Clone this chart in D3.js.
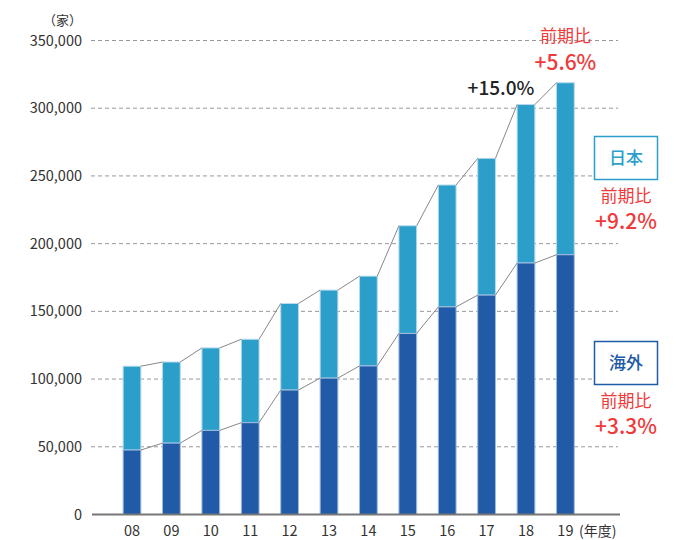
<!DOCTYPE html>
<html lang="ja">
<head>
<meta charset="UTF-8">
<title>店舗数推移</title>
<script src="https://cdn.jsdelivr.net/npm/d3@7"></script>
<style>
    * { margin: 0; padding: 0; }
    body { background: #fff; }
    svg text { font-family: "Noto Sans CJK JP", "Noto Sans", sans-serif; }
</style>
</head>
<body>
<div id="content"></div>
<script>
    // データ
    var years = ["08", "09", "10", "11", "12", "13", "14", "15", "16", "17", "18", "19"];
    var overseas = [47600, 52700, 62100, 67800, 91900, 100700, 109700, 133700, 153300, 162000, 185700, 191800];
    var japan = [61900, 59900, 60900, 61600, 63900, 65000, 66300, 79500, 90000, 101000, 117000, 127000];
    var yTicks = [0, 50000, 100000, 150000, 200000, 250000, 300000, 350000];
    var yUnit = "（家）";
    var xUnit = "(年度)";
    var seriesNames = ["日本", "海外"];
    var ratioLabel = "前期比";
    var ratios = ["+9.2%", "+3.3%"];
    var totalRatio = "+5.6%";
    var lastRatio = "+15.0%";

    var width = 693, height = 540;
    var colJapan = "#2b9fca", colOverseas = "#215aa6";

    var svg = d3.select("#content").append("svg")
        .attr("width", width).attr("height", height);

    var x = d3.scaleBand().domain(years)
        .range([112.3, 585.1])
        .paddingInner(0.55).paddingOuter(0.275);
    var y = d3.scaleLinear().domain([0, 350000]).range([514.5, 40.5]);

    // グリッド
    var yAxis = d3.axisLeft(y).tickValues(yTicks)
        .tickSize(0).tickPadding(8)
        .tickFormat(d3.format(","));
    var gy = svg.append("g").attr("transform", "translate(90,0)").call(yAxis);
    gy.select(".domain").remove();
    gy.selectAll("text").attr("font-size", 14.5).attr("fill", "#333");

    svg.selectAll("line.grid").data(yTicks.filter(function(d){ return d > 0; }))
        .enter().append("line").attr("class", "grid")
        .attr("x1", 91).attr("x2", 618)
        .attr("y1", function(d){ return y(d); })
        .attr("y2", function(d){ return y(d); })
        .attr("stroke", "#999").attr("stroke-width", 1)
        .attr("stroke-dasharray", "4,3");

    svg.append("text").text(yUnit)
        .attr("x", 82).attr("y", 25).attr("text-anchor", "end")
        .attr("font-size", 13).attr("fill", "#333");

    // 積み上げ
    var stack = years.map(function(d, i){
        return { year: d, o: overseas[i], t: overseas[i] + japan[i] };
    });

    svg.selectAll("rect.jp").data(stack).enter().append("rect")
        .attr("class", "jp")
        .attr("x", function(d){ return x(d.year); })
        .attr("y", function(d){ return y(d.t); })
        .attr("width", x.bandwidth())
        .attr("height", function(d){ return y(d.o) - y(d.t); })
        .attr("fill", colJapan).attr("stroke", "#b9d9ec").attr("stroke-width", 1);

    svg.selectAll("rect.os").data(stack).enter().append("rect")
        .attr("class", "os")
        .attr("x", function(d){ return x(d.year); })
        .attr("y", function(d){ return y(d.o); })
        .attr("width", x.bandwidth())
        .attr("height", function(d){ return y(0) - y(d.o); })
        .attr("fill", colOverseas).attr("stroke", "#9fbbdc").attr("stroke-width", 1);

    // 連結線
    function connectors(key){
        var segs = [];
        for (var i = 0; i < stack.length - 1; i++) {
            segs.push([stack[i], stack[i + 1]]);
        }
        svg.selectAll("line.c" + key).data(segs).enter().append("line")
            .attr("class", "c" + key)
            .attr("x1", function(d){ return x(d[0].year) + x.bandwidth(); })
            .attr("y1", function(d){ return y(d[0][key]); })
            .attr("x2", function(d){ return x(d[1].year); })
            .attr("y2", function(d){ return y(d[1][key]); })
            .attr("stroke", "#888").attr("stroke-width", 1);
    }
    connectors("t");
    connectors("o");

    // x軸
    svg.append("line")
        .attr("x1", 92).attr("x2", 620)
        .attr("y1", y(0)).attr("y2", y(0))
        .attr("stroke", "#777").attr("stroke-width", 2);

    svg.selectAll("text.xl").data(years).enter().append("text")
        .attr("class", "xl")
        .attr("x", function(d){ return x(d) + x.bandwidth() / 2; })
        .attr("y", 536).attr("text-anchor", "middle")
        .attr("font-size", 14.5).attr("fill", "#333")
        .text(function(d){ return d; });

    svg.append("text").text(xUnit)
        .attr("x", 579).attr("y", 536)
        .attr("font-size", 14).attr("fill", "#333");

    // 注記
    svg.append("text").text(lastRatio)
        .attr("x", 501).attr("y", 95).attr("text-anchor", "middle")
        .attr("font-size", 19).attr("font-weight", 500).attr("fill", "#222");

    var lastX = x(years[years.length - 1]) + x.bandwidth() / 2;
    svg.append("text").text(ratioLabel)
        .attr("x", lastX).attr("y", 42).attr("text-anchor", "middle")
        .attr("font-size", 17).attr("fill", "#f0393b");
    svg.append("text").text(totalRatio)
        .attr("x", lastX).attr("y", 70).attr("text-anchor", "middle")
        .attr("font-size", 21).attr("font-weight", 500).attr("fill", "#f0393b");

    // 凡例
    var legY = [136, 341];
    var legCol = [colJapan, colOverseas];
    seriesNames.forEach(function(name, i){
        var g = svg.append("g").attr("transform", "translate(594," + legY[i] + ")");
        g.append("rect").attr("x", 0.5).attr("y", 0.5)
            .attr("width", 63).attr("height", 43)
            .attr("fill", "#fff").attr("stroke", legCol[i]).attr("stroke-width", 1.5);
        g.append("text").text(name)
            .attr("x", 32).attr("y", 28).attr("text-anchor", "middle")
            .attr("font-size", 17).attr("font-weight", 500).attr("fill", legCol[i]);
        g.append("text").text(ratioLabel)
            .attr("x", 32).attr("y", 66).attr("text-anchor", "middle")
            .attr("font-size", 17).attr("fill", "#f0393b");
        g.append("text").text(ratios[i])
            .attr("x", 32).attr("y", 93).attr("text-anchor", "middle")
            .attr("font-size", 21).attr("font-weight", 500).attr("fill", "#f0393b");
    });
</script>
</body>
</html>
